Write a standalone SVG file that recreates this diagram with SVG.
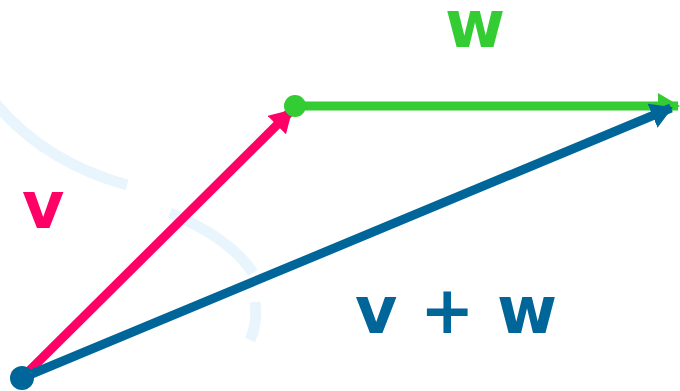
<svg xmlns="http://www.w3.org/2000/svg" width="680" height="391" viewBox="0 0 680 391">
<style>
.bg{fill:none;stroke:#e8f5fd;stroke-width:11;stroke-linecap:butt}
.lbl{font-family:"DejaVu Sans",sans-serif;font-weight:bold;font-size:65px}
.vec{fill:none;stroke-width:9;stroke-linecap:butt}
</style>
<defs>
<marker id="ahR" markerUnits="userSpaceOnUse" viewBox="0 0 22 26" refX="20" refY="13" markerWidth="22" markerHeight="26" orient="auto"><path d="M0,0 L22,13 L0,26 Z" fill="#ff0066"/></marker>
<marker id="ahG" markerUnits="userSpaceOnUse" viewBox="0 0 22 26" refX="20" refY="13" markerWidth="22" markerHeight="26" orient="auto"><path d="M0,0 L22,13 L0,26 Z" fill="#33cc33"/></marker>
<marker id="ahB" markerUnits="userSpaceOnUse" viewBox="0 0 22 26" refX="20" refY="13" markerWidth="22" markerHeight="26" orient="auto"><path d="M0,0 L22,13 L0,26 Z" fill="#006699"/></marker>
</defs>
<g id="background">
<path class="bg" d="M-4,104 Q45,162 127,185"/>
<path class="bg" d="M170,213 Q230,238 253,273"/>
<path class="bg" d="M255,302 Q258,322 250,340"/>
</g>
<g id="connectors">
<line id="v" class="vec" x1="22" y1="378" x2="291" y2="111" stroke="#ff0066" marker-end="url(#ahR)"/>
<line id="w" class="vec" x1="295" y1="106" x2="678" y2="106" stroke="#33cc33" marker-end="url(#ahG)"/>
<line id="vw" class="vec" x1="22" y1="378" x2="671" y2="108" stroke="#006699" marker-end="url(#ahB)"/>
</g>
<g id="node-origin"><circle cx="22" cy="378" r="12" fill="#006699"/></g>
<g id="node-mid"><circle cx="295" cy="106" r="11" fill="#33cc33"/></g>
<g id="labels">
<text class="lbl" x="22" y="228" fill="#ff0066">v</text>
<text class="lbl" x="445" y="47" fill="#33cc33">w</text>
<text class="lbl" x="355" y="333" fill="#006699">v + w</text>
</g>
</svg>
